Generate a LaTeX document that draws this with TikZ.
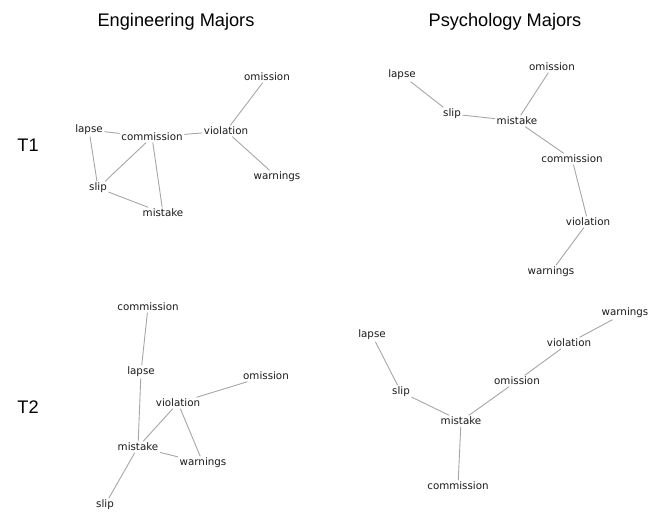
\documentclass[tikz,border=0pt]{standalone}
\usepackage{fontspec}
\setmainfont{DejaVu Sans}
\newfontfamily\headfont{Liberation Sans}
\begin{document}
\begin{tikzpicture}[x=1pt,y=-1pt,
  lbl/.style={font=\fontsize{10.3}{12}\selectfont, text=black!90, inner sep=1.5pt},
  hdr/.style={font=\headfont\fontsize{18.2}{20}\selectfont, text=black, inner sep=0pt},
  edge/.style={draw=black!35, line width=0.9pt}]
\useasboundingbox (0,0) rectangle (662,515);
\node[hdr] (h1) at (176,22) {Engineering Majors};
\node[hdr] (h2) at (505,22) {Psychology Majors};
\node[hdr] (t1) at (28,145) {T1};
\node[hdr] (t2) at (28,407) {T2};
% Engineering T1
\node[lbl] (a-om) at (267,77) {omission};
\node[lbl] (a-la) at (89,130) {lapse};
\node[lbl] (a-co) at (152,137) {commission};
\node[lbl] (a-vi) at (226,131) {violation};
\node[lbl] (a-sl) at (98,188) {slip};
\node[lbl] (a-mi) at (163,213) {mistake};
\node[lbl] (a-wa) at (277,177) {warnings};
\draw[edge] (a-la) -- (a-co);
\draw[edge] (a-la) -- (a-sl);
\draw[edge] (a-co) -- (a-sl);
\draw[edge] (a-co) -- (a-mi);
\draw[edge] (a-sl) -- (a-mi);
\draw[edge] (a-co) -- (a-vi);
\draw[edge] (a-vi) -- (a-om);
\draw[edge] (a-vi) -- (a-wa);
% Psychology T1
\node[lbl] (b-la) at (402,75) {lapse};
\node[lbl] (b-om) at (552,67) {omission};
\node[lbl] (b-sl) at (452,114) {slip};
\node[lbl] (b-mi) at (517,121) {mistake};
\node[lbl] (b-co) at (572,159) {commission};
\node[lbl] (b-vi) at (588,222) {violation};
\node[lbl] (b-wa) at (551,272) {warnings};
\draw[edge] (b-la) -- (b-sl);
\draw[edge] (b-sl) -- (b-mi);
\draw[edge] (b-mi) -- (b-om);
\draw[edge] (b-mi) -- (b-co);
\draw[edge] (b-co) -- (b-vi);
\draw[edge] (b-vi) -- (b-wa);
% Engineering T2
\node[lbl] (c-co) at (148,307) {commission};
\node[lbl] (c-la) at (141,372) {lapse};
\node[lbl] (c-om) at (266,376) {omission};
\node[lbl] (c-vi) at (178,403) {violation};
\node[lbl] (c-mi) at (138,447) {mistake};
\node[lbl] (c-wa) at (203,463) {warnings};
\node[lbl] (c-sl) at (105,505) {slip};
\draw[edge] (c-co) -- (c-la);
\draw[edge] (c-la) -- (c-mi);
\draw[edge] (c-mi) -- (c-vi);
\draw[edge] (c-vi) -- (c-om);
\draw[edge] (c-vi) -- (c-wa);
\draw[edge] (c-mi) -- (c-wa);
\draw[edge] (c-mi) -- (c-sl);
% Psychology T2
\node[lbl] (d-wa) at (625,313) {warnings};
\node[lbl] (d-la) at (372,335) {lapse};
\node[lbl] (d-vi) at (569,343) {violation};
\node[lbl] (d-om) at (517,381) {omission};
\node[lbl] (d-sl) at (401,392) {slip};
\node[lbl] (d-mi) at (461,421) {mistake};
\node[lbl] (d-co) at (458,486) {commission};
\draw[edge] (d-la) -- (d-sl);
\draw[edge] (d-sl) -- (d-mi);
\draw[edge] (d-mi) -- (d-om);
\draw[edge] (d-om) -- (d-vi);
\draw[edge] (d-vi) -- (d-wa);
\draw[edge] (d-mi) -- (d-co);
\end{tikzpicture}
\end{document}
